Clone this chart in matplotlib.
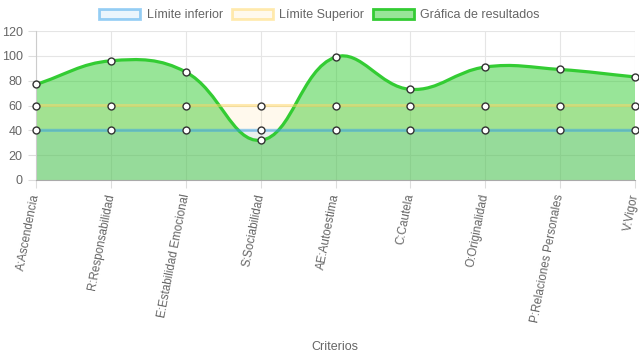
import matplotlib
matplotlib.use("Agg")
import matplotlib.pyplot as plt
from matplotlib.path import Path
from matplotlib.patches import PathPatch, Patch
import numpy as np

categorias = ["A:Ascendencia", "R:Responsabilidad", "E:Estabilidad Emocional",
              "S:Sociabilidad", "AE:Autoestima", "C:Cautela", "O:Originalidad",
              "P:Relaciones Personales", "V:Vigor"]
resultados = [77, 96, 87, 32, 99, 73, 91, 89, 83]
limite_inferior = [40, 40, 40, 40, 40, 40, 40, 40, 40]
limite_superior = [60, 60, 60, 60, 60, 60, 60, 60, 60]

plt.rcParams['font.family'] = ['Liberation Sans', 'DejaVu Sans']

fig = plt.figure(figsize=(6.39, 3.6), dpi=100)
ax = fig.add_axes([36 / 639, 180 / 360, (635 - 36) / 639, (329 - 180) / 360])
ax.set_xlim(0, len(categorias) - 1)
ax.set_ylim(0, 120)

# pixel scale used for the chart.js style bezier tension
sx = (635 - 36) / (len(categorias) - 1)
sy = 149 / 120.0


def spline_path(vals, tension=0.4):
    pts = np.array([[i * sx, v * sy] for i, v in enumerate(vals)])
    n = len(pts)
    cps = []
    for i in range(n):
        prev = pts[max(i - 1, 0)]
        cur = pts[i]
        nxt = pts[min(i + 1, n - 1)]
        d01 = np.hypot(*(cur - prev))
        d12 = np.hypot(*(nxt - cur))
        tot = d01 + d12
        s01 = d01 / tot if tot else 0
        s12 = d12 / tot if tot else 0
        c_prev = cur - tension * s01 * (nxt - prev)
        c_next = cur + tension * s12 * (nxt - prev)
        cps.append((c_prev, c_next))
    verts = [pts[0]]
    codes = [Path.MOVETO]
    for i in range(1, n):
        verts += [cps[i - 1][1], cps[i][0], pts[i]]
        codes += [Path.CURVE4] * 3
    verts = np.array(verts)
    verts[:, 0] /= sx
    verts[:, 1] /= sy
    return verts, codes


def draw_series(vals, line_c, fill_c, lw):
    verts, codes = spline_path(vals)
    last = len(vals) - 1
    fverts = np.vstack([verts, [[last, 0], [0, 0], verts[0]]])
    fcodes = codes + [Path.LINETO, Path.LINETO, Path.CLOSEPOLY]
    ax.add_patch(PathPatch(Path(fverts, fcodes), facecolor=fill_c, edgecolor='none', zorder=2))
    ax.add_patch(PathPatch(Path(verts, codes), facecolor='none', edgecolor=line_c, lw=lw, zorder=3))


green_line = '#33cc33'
green_fill = (50 / 255, 205 / 255, 50 / 255, 0.5)
blue_line = (54 / 255, 162 / 255, 235 / 255, 0.5)
blue_fill = (54 / 255, 162 / 255, 235 / 255, 0.1)
yel_line = (255 / 255, 215 / 255, 100 / 255, 0.5)
yel_fill = (255 / 255, 205 / 255, 86 / 255, 0.1)

draw_series(resultados, green_line, green_fill, 2.3)
draw_series(limite_superior, yel_line, yel_fill, 2.2)
draw_series(limite_inferior, blue_line, blue_fill, 2.2)

x = np.arange(len(categorias))
for vals in (resultados, limite_superior, limite_inferior):
    ax.plot(x, vals, ls='none', marker='o', ms=5, mfc='white', mec='#333333',
            mew=1, zorder=5, clip_on=False)

ax.set_yticks(np.arange(0, 121, 20))
ax.set_xticks(x)
ax.set_xticklabels(categorias, rotation=79, ha='right', va='center',
                   rotation_mode='anchor')
ax.tick_params(axis='both', colors='#dddddd', labelcolor='#666666', labelsize=9, length=6)
ax.tick_params(axis='x', pad=4, labelsize=8.4)
ax.grid(True, color='#e5e5e5', lw=0.8)
ax.set_axisbelow(True)
for s in ('top', 'right'):
    ax.spines[s].set_visible(False)
ax.spines['left'].set_color('#cccccc')
ax.spines['bottom'].set_color('#aaaaaa')

fig.text(335 / 639, 1 - 347 / 360, "Criterios", ha='center', va='center',
         fontsize=9, color='#666666')

handles = [
    Patch(facecolor=blue_fill, edgecolor=blue_line, lw=2, label='Límite inferior'),
    Patch(facecolor=yel_fill, edgecolor=yel_line, lw=2, label='Límite Superior'),
    Patch(facecolor=green_fill, edgecolor=green_line, lw=2, label='Gráfica de resultados'),
]
fig.legend(handles=handles, loc='center', bbox_to_anchor=(0.5, 1 - 15 / 360), ncol=3,
           frameon=False, fontsize=9, labelcolor='#666666', handlelength=3.3,
           handleheight=0.9, columnspacing=0.7, handletextpad=0.5)

fig.savefig("out.png", dpi=100)
